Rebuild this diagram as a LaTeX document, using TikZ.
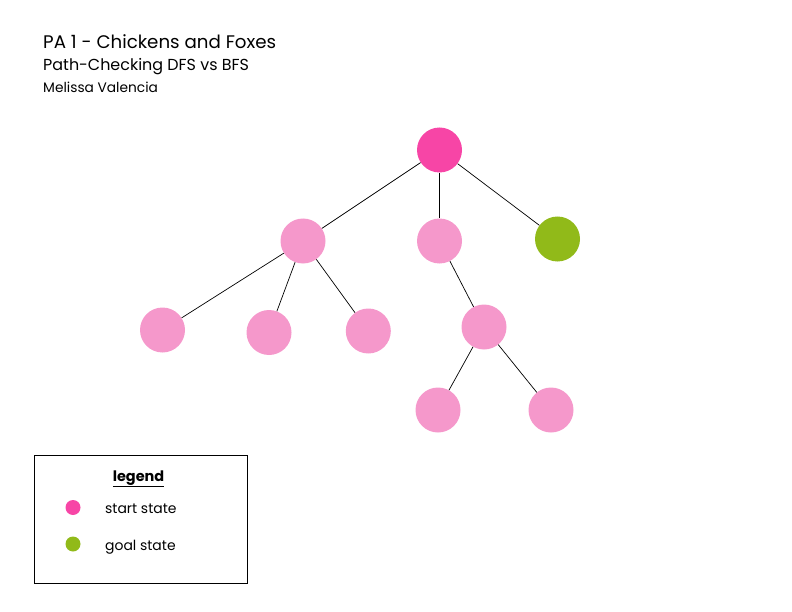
\documentclass[tikz,border=0pt]{standalone}
\usepackage{fontspec}
\setmainfont{Poppins}
\definecolor{startpink}{RGB}{247,69,166}
\definecolor{lightpink}{RGB}{245,152,203}
\definecolor{goalgreen}{RGB}{145,186,25}
\begin{document}
\begin{tikzpicture}[x=1bp,y=-1bp,
  state/.style={circle,fill=lightpink,minimum size=45bp,inner sep=0pt},
  startst/.style={state,fill=startpink},
  goalst/.style={state,fill=goalgreen},
  edge/.style={draw=black,line width=0.7bp},
  dot/.style={circle,minimum size=15bp,inner sep=0pt},
  txt/.style={anchor=base west,inner sep=0pt}]
\useasboundingbox (0,0) rectangle (792,612);
\node[txt,font=\fontsize{18.3}{21}\selectfont] (t1) at (43,49) {PA 1 - Chickens and Foxes};
\node[txt,font=\fontsize{16}{19}\selectfont] (t2) at (43,70.5) {Path-Checking DFS vs BFS};
\node[txt,font=\fontsize{13.8}{16}\selectfont] (t3) at (43,93) {Melissa Valencia};

\node[startst] (r) at (439.5,150) {};
\node[state] (a) at (303,241) {};
\node[state] (b) at (439.5,241) {};
\node[goalst] (g) at (557.5,239) {};
\node[state] (a1) at (162.5,330) {};
\node[state] (a2) at (269,332.5) {};
\node[state] (a3) at (368.3,331) {};
\node[state] (b1) at (484,327) {};
\node[state] (c1) at (438,410) {};
\node[state] (c2) at (551,410) {};

\draw[edge] (r) -- (a);
\draw[edge] (r) -- (b);
\draw[edge] (r) -- (g);
\draw[edge] (a) -- (a1);
\draw[edge] (a) -- (a2);
\draw[edge] (a) -- (a3);
\draw[edge] (b) -- (b1);
\draw[edge] (b1) -- (c1);
\draw[edge] (b1) -- (c2);

\node[draw=black,line width=0.8bp,minimum width=213bp,minimum height=128bp,inner sep=0pt,anchor=north west] (box) at (34,455) {};
\node[font=\fontsize{14.5}{17}\selectfont\bfseries,anchor=base,inner sep=0pt] (lg) at (138.5,481) {\underline{legend}};
\node[dot,fill=startpink] (d1) at (73,507.5) {};
\node[dot,fill=goalgreen] (d2) at (73,544) {};
\node[txt,font=\fontsize{14}{17}\selectfont] (l1) at (105,513) {start state};
\node[txt,font=\fontsize{14}{17}\selectfont] (l2) at (105,550) {goal state};
\end{tikzpicture}
\end{document}
